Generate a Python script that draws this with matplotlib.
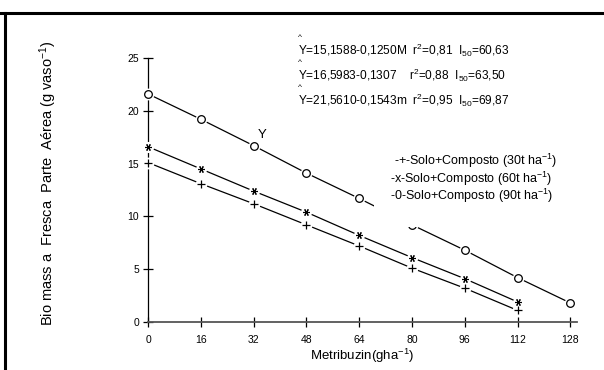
import matplotlib
matplotlib.use("Agg")
import matplotlib.pyplot as plt
from matplotlib.lines import Line2D
from matplotlib.patches import Rectangle

plt.rcParams['font.family'] = ['Liberation Sans', 'DejaVu Sans']
plt.rcParams['mathtext.fontset'] = 'custom'
plt.rcParams['mathtext.rm'] = 'Liberation Sans'
plt.rcParams['mathtext.it'] = 'Liberation Sans:italic'
plt.rcParams['mathtext.bf'] = 'Liberation Sans:bold'

# Data
doses = [0, 16, 32, 48, 64, 80, 96, 112, 128]
composto30 = [15.1, 13.1, 11.2, 9.2, 7.2, 5.1, 3.2, 1.1]
composto60 = [16.6, 14.5, 12.4, 10.4, 8.2, 6.1, 4.1, 1.9]
composto90 = [21.6, 19.2, 16.7, 14.1, 11.7, 9.2, 6.8, 4.2, 1.8]
xticks = [0, 16, 32, 48, 64, 80, 96, 112, 128]
yticks = [0, 5, 10, 15, 20, 25]
equations = [
    r"Y=15,1588-0,1250M  r$^{2}$=0,81  I$_{50}$=60,63",
    r"Y=16,5983-0,1307    r$^{2}$=0,88  I$_{50}$=63,50",
    r"Y=21,5610-0,1543m  r$^{2}$=0,95  I$_{50}$=69,87",
]
legend_labels = [
    r"-+-Solo+Composto (30t ha$^{-1}$)",
    r"-x-Solo+Composto (60t ha$^{-1}$)",
    r"-0-Solo+Composto (90t ha$^{-1}$)",
]

fig = plt.figure(figsize=(6.04, 3.70), dpi=100)
ax = fig.add_axes([148/604, 1-322/370, (577-148)/604, (322-58)/370])

series = [
    (composto30, '+', 5.5, 0.9),
    (composto60, (6, 2, 90), 5.0, 0.8),
    (composto90, 'o', 5.5, 0.9),
]
for vals, mk, ms, mew in series:
    xs = doses[:len(vals)]
    ax.plot(xs, vals, color='black', lw=0.9, zorder=2, clip_on=False)
    ax.plot(xs, vals, ls='none', marker='o', ms=ms + 3, mfc='white',
            mec='none', zorder=3, clip_on=False)
    ax.plot(xs, vals, ls='none', marker=mk, ms=ms, mfc='white',
            mec='black', mew=mew, zorder=4, clip_on=False)

# white box hiding part of the 90t line (as in the original)
ax.add_patch(Rectangle((68.5, 9.0), 35, 7.5, facecolor='white',
                       edgecolor='none', zorder=5))

ax.set_xlim(0, 130)
ax.set_ylim(0, 25)
ax.set_xticks(xticks)
ax.set_yticks(yticks)
ax.tick_params(direction='inout', length=7, width=0.9, labelsize=7.5,
               pad=3)
ax.tick_params(axis='x', pad=6)
for s in ['top', 'right']:
    ax.spines[s].set_visible(False)
ax.spines['left'].set_linewidth(0.9)
ax.spines['bottom'].set_linewidth(1.3)
ax.spines['bottom'].set_color('#555555')

ax.set_xlabel(r"Metribuzin(gha$^{-1}$)", fontsize=9.5, labelpad=1)
ax.set_ylabel(r"Bio mass a  Fresca  Parte  Aérea (g vaso$^{-1}$)",
              fontsize=10.5)
ax.yaxis.set_label_coords(-0.207, 0.527)

# equations
ytop = [38, 63, 88]
for i, eq in enumerate(equations):
    fig.text(298/604, 1-(ytop[i]-0.5)/370, "^", fontsize=6, va='center', ha='left')
    fig.text(298/604, 1-(ytop[i]+12)/370, eq, fontsize=8.6, va='center', ha='left')

# stray Y label
ax.text(34.5, 17.1, "Y", fontsize=9.5, ha='center', va='bottom', zorder=6)

# legend text
for i, lab in enumerate(legend_labels):
    fig.text((394 if i == 0 else 390)/604, 1-(161+17.5*i)/370, lab, fontsize=9,
             va='center', ha='left', zorder=7)

# border lines
fig.add_artist(Line2D([0, 1], [1-13/370, 1-13/370], color='black', lw=2.2,
                      transform=fig.transFigure))
fig.add_artist(Line2D([5/604, 5/604], [0, 1-13/370], color='black', lw=2.2,
                      transform=fig.transFigure))

fig.savefig("out.png", dpi=100)
